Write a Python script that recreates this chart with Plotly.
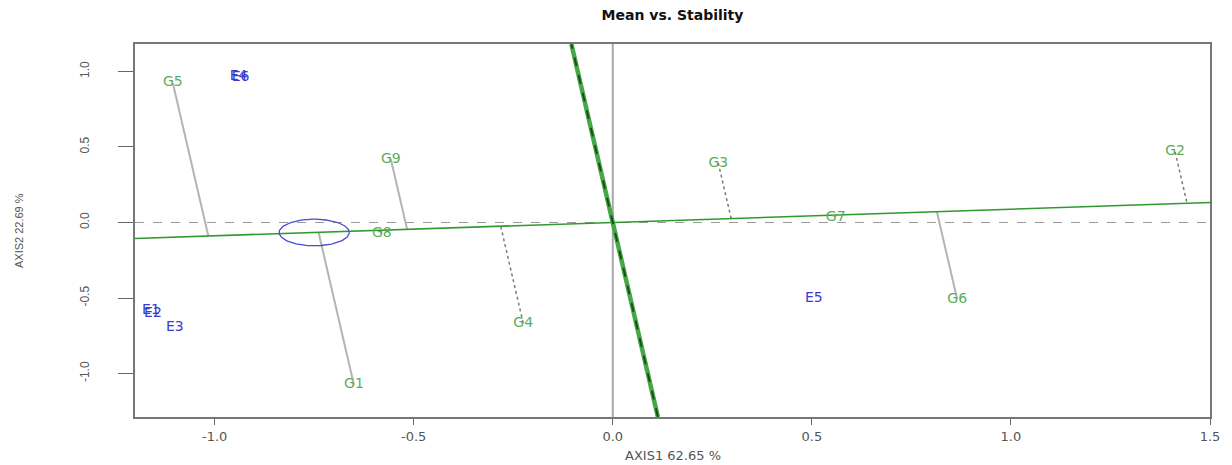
import numpy as np
import plotly.graph_objects as go

# ---- data ----
genotypes = ['G1', 'G2', 'G3', 'G4', 'G5', 'G6', 'G7', 'G8', 'G9']
gen_x = [-0.65, 1.4125, 0.265, -0.225, -1.105, 0.865, 0.56, -0.58, -0.5575]
gen_y = [-1.076, 0.467, 0.394, -0.666, 0.924, -0.508, 0.036, -0.076, 0.42]

environments = ['E1', 'E2', 'E3', 'E4', 'E5', 'E6']
env_x = [-1.16, -1.155, -1.10, -0.94, 0.505, -0.935]
env_y = [-0.58, -0.605, -0.695, 0.964, -0.501, 0.958]

aec_center = [-0.75, -0.066]   # average environment coordinate
aec_radius = 0.088

x_ticks = [-1.0, -0.5, 0.0, 0.5, 1.0, 1.5]
x_ticktext = ['-1.0', '-0.5', '0.0', '0.5', '1.0', '1.5']
y_ticks = [-1.0, -0.5, 0.0, 0.5, 1.0]
y_ticktext = ['-1.0', '-0.5', '0.0', '0.5', '1.0']

title = 'Mean vs. Stability'
x_title = 'AXIS1 62.65 %'
y_title = 'AXIS2 22.69 %'

x_range = [-1.2, 1.5]
y_range = [-1.288, 1.182]

# ---- derived geometry ----
slope = aec_center[1] / aec_center[0]
dotted = {'G2', 'G3', 'G4'}

fig = go.Figure()

# reference lines through origin
fig.add_trace(go.Scatter(x=x_range, y=[0, 0], mode='lines',
                         line=dict(color='#9a9a9a', width=1, dash='dash'),
                         hoverinfo='skip', showlegend=False))
fig.add_trace(go.Scatter(x=[0, 0], y=y_range, mode='lines',
                         line=dict(color='#a8a8a8', width=2),
                         hoverinfo='skip', showlegend=False))

# projections of genotypes onto the AEC abscissa
for g, x, y in zip(genotypes, gen_x, gen_y):
    t = (x + slope * y) / (1 + slope ** 2)
    fx, fy = t, t * slope
    if g in dotted:
        ln = dict(color='#7a7a7a', width=1.5, dash='dot')
    else:
        ln = dict(color='#b4b4b4', width=2)
    fig.add_trace(go.Scatter(x=[x, fx], y=[y, fy], mode='lines', line=ln,
                             hoverinfo='skip', showlegend=False))

# AEC abscissa
fig.add_trace(go.Scatter(x=x_range, y=[slope * v for v in x_range], mode='lines',
                         line=dict(color='#2f9a2f', width=1.6),
                         hoverinfo='skip', showlegend=False))
# AEC ordinate (perpendicular)
perp = -1.0 / slope
fig.add_trace(go.Scatter(x=[v / perp for v in y_range], y=y_range, mode='lines',
                         line=dict(color='#45a845', width=4.5),
                         hoverinfo='skip', showlegend=False))
fig.add_trace(go.Scatter(x=[v / perp for v in y_range], y=y_range, mode='lines',
                         line=dict(color='#1d4d1d', width=2, dash='dash'),
                         hoverinfo='skip', showlegend=False))

# circle at average environment
th = np.linspace(0, 2 * np.pi, 120)
fig.add_trace(go.Scatter(x=aec_center[0] + aec_radius * np.cos(th),
                         y=aec_center[1] + aec_radius * np.sin(th), mode='lines',
                         line=dict(color='#4a4ad0', width=1.3),
                         hoverinfo='skip', showlegend=False))

label_font = 'DejaVu Sans, Verdana, sans-serif'
# labels
fig.add_trace(go.Scatter(x=gen_x, y=gen_y, mode='text', text=genotypes,
                         textposition='middle center',
                         textfont=dict(family=label_font, size=14, color='#5aad5a'),
                         showlegend=False))
fig.add_trace(go.Scatter(x=env_x, y=env_y, mode='text', text=environments,
                         textposition='middle center',
                         textfont=dict(family=label_font, size=14, color='#3b3bd0'),
                         showlegend=False))

axis_common = dict(showgrid=False, zeroline=False, showline=True, mirror=True,
                   linecolor='#777777', linewidth=2, ticks='outside', tickcolor='#666666')

fig.update_layout(
    width=1232, height=465,
    margin=dict(l=135, r=17, t=44, b=48),
    paper_bgcolor='white', plot_bgcolor='white',
    title=dict(text=title, x=0.5, xref='paper', xanchor='center',
               y=1 - 15 / 465, yref='container', yanchor='middle',
               font=dict(family=label_font, size=14, color='#111111', weight='bold')),
    xaxis=dict(range=x_range, tickvals=x_ticks, ticktext=x_ticktext, ticklen=6,
               tickfont=dict(family=label_font, size=13, color='#555555'), **axis_common),
    yaxis=dict(range=y_range, tickvals=y_ticks, ticktext=y_ticktext, ticklen=15,
               tickangle=-90, ticklabelstandoff=24,
               tickfont=dict(family='Liberation Sans, Arial', size=12, color='#555555'),
               **axis_common),
    annotations=[
        dict(text=x_title, xref='paper', yref='paper', x=0.5, y=-38 / 373,
             xanchor='center', yanchor='middle', showarrow=False,
             font=dict(family=label_font, size=13, color='#555555')),
        dict(text=y_title, xref='paper', yref='paper', x=(18 - 135) / 1080, y=0.5,
             xanchor='center', yanchor='middle', showarrow=False, textangle=-90,
             font=dict(family='Liberation Sans, Arial', size=11, color='#555555')),
    ],
)

fig.write_html('out.html', config={'displayModeBar': False},
               post_script="document.body.style.margin='0';document.body.style.overflow='hidden';")
